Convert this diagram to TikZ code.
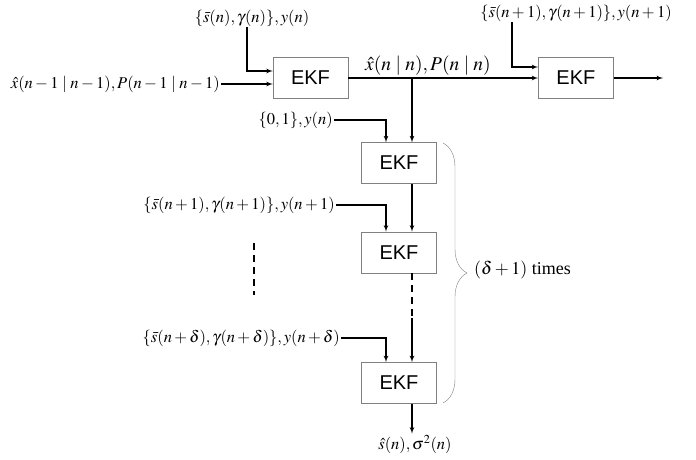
\documentclass[tikz,border=0pt]{standalone}
\usepackage{mathptmx}
\usepackage{fontspec}
\setmainfont{Liberation Serif}
\setsansfont{Liberation Sans}
\usetikzlibrary{shapes, arrows, positioning, decorations.pathreplacing}
\tikzstyle{block} = [rectangle, draw=gray, fill=white, minimum width=75pt,
    minimum height=41pt, font=\sffamily\fontsize{20}{24}\selectfont]
\tikzstyle{line} = [draw, line width=1.2pt, -latex']
\tikzstyle{lbl} = [font=\fontsize{16.5}{18}\selectfont, inner sep=1pt]

\begin{document}
\begin{tikzpicture}[x=1pt, y=-1pt, node distance = 48pt]
        \useasboundingbox (0,0) rectangle (696,460);
        % Nodes
        \node [block] (ekfA) at (310.5,78) {EKF};
        \node [block, right=190pt of ekfA] (ekfB) {EKF};
        \node [block] (ekfC) at (399,163) {EKF};
        \node [block, below=48pt of ekfC] (ekfD) {EKF};
        \node [block, below=89pt of ekfD] (ekfE) {EKF};

        % Labels
        \node [lbl, anchor=east] (xprev) at (221,84) {$\hat{x}(n-1\mid n-1),P(n-1\mid n-1)$};
        \node [lbl] (sA) at (252,18) {$\{\bar{s}(n),\gamma(n)\},y(n)$};
        \node [lbl] (sB) at (576,13) {$\{\bar{s}(n+1),\gamma(n+1)\},y(n+1)$};
        \node [lbl, anchor=east] (zero) at (334,120) {$\{0,1\},y(n)$};
        \node [lbl, anchor=east] (sOne) at (336,205) {$\{\bar{s}(n+1),\gamma(n+1)\},y(n+1)$};
        \node [lbl, anchor=east] (sDelta) at (341,338) {$\{\bar{s}(n+\delta),\gamma(n+\delta)\},y(n+\delta)$};
        \node [lbl] (est) at (415,444) {$\hat{s}(n),\sigma^2(n)$};
        \node [lbl, anchor=west, font=\fontsize{18}{20}\selectfont] (times) at (473,270) {$(\delta+1)$ times};
        \coordinate (out) at (663,78);
        \coordinate (gap) at (412,318);

        % Lines
        \path [line] (xprev) -- (xprev -| ekfA.west);
        \path [line] ([xshift=-5pt]sA.south) |- ([yshift=7pt]ekfA.west);
        \path [line] (ekfA) -- node [lbl, above=1pt, pos=0.42, font=\fontsize{19.5}{21}\selectfont] (xcur) {$\hat{x}(n\mid n),P(n\mid n)$} (ekfB);
        \path [line] ([xshift=-64pt]sB.south) |- ([yshift=11pt]ekfB.west);
        \path [line] (ekfB) -- (out);
        \path [line] ([xshift=13pt]ekfC.north |- ekfA.east) -- ([xshift=13pt]ekfC.north);
        \path [line] (zero) -| ([xshift=-13pt]ekfC.north);
        \path [line] ([xshift=13pt]ekfC.south) -- ([xshift=13pt]ekfD.north);
        \path [line] (sOne) -| ([xshift=-13pt]ekfD.north);
        \draw [line width=1.2pt, dash pattern=on 7pt off 5pt] ([xshift=13pt]ekfD.south) -- (gap);
        \path [line] (gap) -- ([xshift=13pt]ekfE.north);
        \path [line] (sDelta) -| ([xshift=-13pt]ekfE.north);
        \path [line] ([xshift=13pt]ekfE.south) -- ([xshift=13pt]ekfE.south |- est.north);

        % Dots and brace
        \draw [line width=1.2pt, dash pattern=on 7pt off 5pt] (254,243) -- (254,295);
        \draw [gray, decorate, decoration={brace, amplitude=24pt}] (443,143) -- (443,403);
    \end{tikzpicture}
\end{document}
